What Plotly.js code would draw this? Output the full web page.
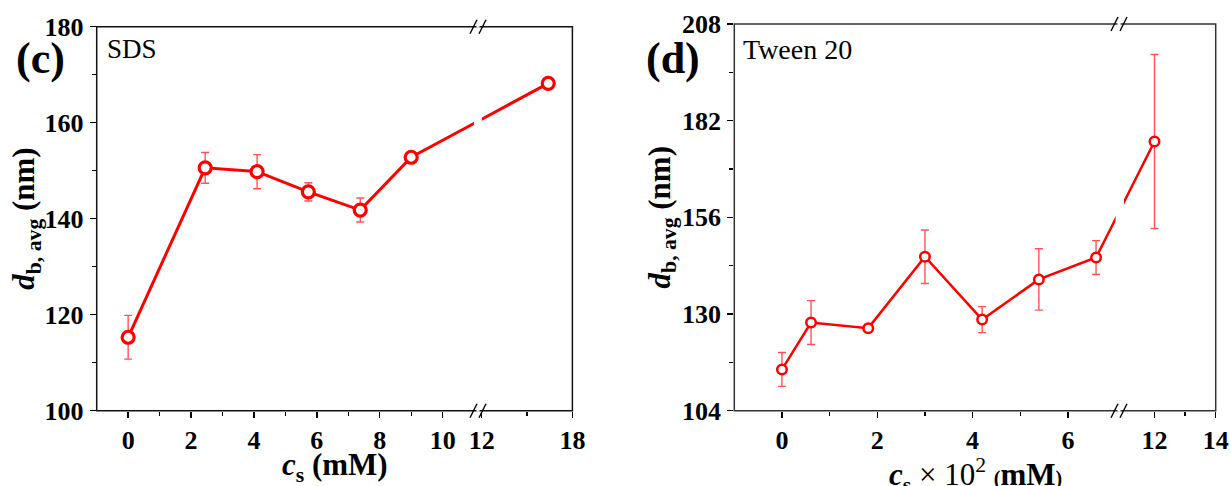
<!DOCTYPE html>
<html>
<head>
<meta charset="utf-8">
<script src="https://cdn.plot.ly/plotly-3.0.1.min.js"></script>
<style>html,body{margin:0;padding:0;background:#fff;}#chart{width:1231px;height:486px;}</style>
</head>
<body>
<div id="chart"></div>
<script>
// ---- data ----
const sdsX   = [0, 2.45, 4.1, 5.73, 7.38, 9.0, 16.4];
const sdsY   = [115.3, 150.6, 149.8, 145.6, 141.8, 152.8, 168.2];
const sdsErr = [4.55, 3.2, 3.55, 1.9, 2.5, 0.5, 0.5];

const twX   = [0, 0.61, 1.81, 3.0, 4.2, 5.39, 6.59, 12.0];
const twY   = [115.1, 127.7, 126.2, 145.4, 128.5, 139.3, 145.2, 176.4];
const twErr = [4.55, 5.9, 0.5, 7.2, 3.5, 8.25, 4.55, 23.4];

const sdsTicksA = [0, 2, 4, 6, 8, 10];
const sdsTicksB = [12, 18];
const sdsMinorA = [1, 3, 5, 7, 9];
const sdsMinorB = [15];
const sdsYTicks = [100, 120, 140, 160, 180];
const sdsYMinor = [110, 130, 150, 170];

const twTicksA = [0, 2, 4, 6];
const twTicksB = [12, 14];
const twMinorA = [1, 3, 5];
const twMinorB = [13];
const twYTicks = [104, 130, 156, 182, 208];
const twYMinor = [117, 143, 169, 195];

// ---- layout geometry ----
const W = 1231, H = 486;
const px = v => v / W;
const py = v => 1 - v / H;
const RED = '#ff0000';
const ERR = 'rgba(255,40,40,0.8)';
const FONT = 'Liberation Serif';

const panels = [
  {
    name: 'sds', X: sdsX, Y: sdsY, E: sdsErr,
    segs: [
      {ax: 'x',  dom: [96.7, 474.1],  rng: [-1, 11], ticks: sdsTicksA, minor: sdsMinorA},
      {ax: 'x2', dom: [481.8, 572.4], rng: [12, 18], ticks: sdsTicksB, minor: sdsMinorB}
    ],
    yax: 'y', ydom: [410.7, 26.7], yrng: [100, 180], yticks: sdsYTicks, yminor: sdsYMinor,
    msize: 12, mline: 3.2, lw: 3, brk: 478, frame: '#111'
  },
  {
    name: 'tw', X: twX, Y: twY, E: twErr,
    segs: [
      {ax: 'x3', dom: [734.3, 1115.6],  rng: [-1, 7],  ticks: twTicksA, minor: twMinorA},
      {ax: 'x4', dom: [1123.9, 1215.7], rng: [11, 14], ticks: twTicksB, minor: twMinorB}
    ],
    yax: 'y2', ydom: [410.7, 24], yrng: [104, 208], yticks: twYTicks, yminor: twYMinor,
    msize: 9.5, mline: 2.5, lw: 2.5, brk: 1119, frame: '#333'
  }
];

function toPix(seg, x) {
  return seg.dom[0] + (x - seg.rng[0]) / (seg.rng[1] - seg.rng[0]) * (seg.dom[1] - seg.dom[0]);
}
function fromPix(seg, p) {
  return seg.rng[0] + (p - seg.dom[0]) / (seg.dom[1] - seg.dom[0]) * (seg.rng[1] - seg.rng[0]);
}
function segIndex(P, x) { return x <= P.segs[0].rng[1] ? 0 : 1; }

const traces = [];
const layout = {
  width: W, height: H,
  margin: {l: 0, r: 0, t: 0, b: 0},
  paper_bgcolor: '#fff', plot_bgcolor: 'rgba(0,0,0,0)',
  showlegend: false,
  font: {family: FONT, color: '#000'},
  shapes: [], annotations: []
};

const tickFont = {family: FONT, size: 26, color: '#000', weight: 'bold'};

panels.forEach(P => {
  const yName = P.yax === 'y' ? 'yaxis' : 'yaxis2';
  layout[yName] = {
    domain: [py(P.ydom[0]), py(P.ydom[1])], range: P.yrng, anchor: P.segs[0].ax,
    showline: false, showgrid: false, zeroline: false,
    tickmode: 'array', tickvals: P.yticks, ticks: 'outside', ticklen: 6, tickwidth: 1.4, tickcolor: '#000',
    tickfont: tickFont, ticklabelstandoff: 1,
    minor: {tickmode: 'array', tickvals: P.yminor, ticks: 'outside', ticklen: 4, tickwidth: 1.4, tickcolor: '#000', showgrid: false}
  };
  P.segs.forEach((s, i) => {
    const xName = 'xaxis' + (s.ax === 'x' ? '' : s.ax.slice(1));
    layout[xName] = {
      domain: [px(s.dom[0]), px(s.dom[1])], range: s.rng, anchor: P.yax,
      showline: false, showgrid: false, zeroline: false,
      tickmode: 'array', tickvals: s.ticks, ticks: 'outside', ticklen: 6, tickwidth: 1.4, tickcolor: '#000',
      tickfont: tickFont, ticklabelstandoff: 0,
      minor: {tickmode: 'array', tickvals: s.minor, ticks: 'outside', ticklen: 4, tickwidth: 1.4, tickcolor: '#000', showgrid: false}
    };
    // connecting line: every point expressed in this segment's coordinates (clipped by the subplot)
    const lx = P.X.map(x => {
      const j = segIndex(P, x);
      return j === i ? x : fromPix(s, toPix(P.segs[j], x));
    });
    traces.push({
      type: 'scatter', mode: 'lines', x: lx, y: P.Y, xaxis: s.ax, yaxis: P.yax,
      line: {color: RED, width: P.lw}, hoverinfo: 'skip'
    });
    // markers with error bars for points in this segment
    const idx = P.X.map((x, k) => k).filter(k => segIndex(P, P.X[k]) === i);
    traces.push({
      type: 'scatter', mode: 'markers', cliponaxis: false,
      x: idx.map(k => P.X[k]), y: idx.map(k => P.Y[k]), xaxis: s.ax, yaxis: P.yax,
      error_y: {type: 'data', array: idx.map(k => P.E[k]), visible: true, color: ERR, thickness: 1.4, width: 4},
      marker: {symbol: 'circle', size: P.msize, color: '#fff', line: {color: RED, width: P.mline}}
    });
  });
  // frame
  const x0 = P.segs[0].dom[0], x1 = P.segs[1].dom[1];
  const yb = P.ydom[0], yt = P.ydom[1];
  layout.shapes.push({type: 'rect', xref: 'paper', yref: 'paper', x0: px(x0), x1: px(x1), y0: py(yb), y1: py(yt),
    line: {color: P.frame, width: 1.5}, fillcolor: 'rgba(0,0,0,0)', layer: 'above'});
  // break marks on top and bottom axis
  [yb, yt].forEach(yy => {
    layout.shapes.push({type: 'path', xref: 'paper', yref: 'paper',
      path: `M${px(P.brk - 1.5)},${py(yy - 1)} L${px(P.brk + 1.5)},${py(yy - 1)} L${px(P.brk + 1.5)},${py(yy + 1)} L${px(P.brk - 1.5)},${py(yy + 1)} Z`,
      fillcolor: '#fff', line: {width: 0}, layer: 'above'});
    [-4.5, 4.5].forEach(d => {
      layout.shapes.push({type: 'line', xref: 'paper', yref: 'paper',
        x0: px(P.brk + d - 3.5), y0: py(yy + 7), x1: px(P.brk + d + 3.5), y1: py(yy - 7),
        line: {color: '#000', width: 1.4}, layer: 'above'});
    });
  });
});

const ann = (o) => layout.annotations.push(Object.assign({xref: 'paper', yref: 'paper', showarrow: false}, o));
// panel labels
ann({x: px(40.5), y: py(59), text: '(c)', xanchor: 'center', yanchor: 'middle', font: {family: FONT, size: 44, weight: 'bold', color: '#000'}});
ann({x: px(672.5), y: py(59), text: '(d)', xanchor: 'center', yanchor: 'middle', font: {family: FONT, size: 44, weight: 'bold', color: '#000'}});
ann({x: px(105), y: py(49), text: 'SDS', xanchor: 'left', yanchor: 'middle', font: {family: FONT, size: 27, color: '#000'}});
ann({x: px(741), y: py(49), text: 'Tween 20', xanchor: 'left', yanchor: 'middle', font: {family: FONT, size: 28, color: '#000'}});
// y titles
const yTitle = '<i>d</i><sub>b, avg</sub> (nm)';
ann({x: px(26), y: py(218.7), text: yTitle, textangle: -90, xanchor: 'center', yanchor: 'middle', font: {family: FONT, size: 31, weight: 'bold', color: '#000'}});
ann({x: px(662), y: py(217.4), text: yTitle, textangle: -90, xanchor: 'center', yanchor: 'middle', font: {family: FONT, size: 31, weight: 'bold', color: '#000'}});
// x titles
ann({x: px(334.5), y: py(467), text: '<i>c</i><sub>s</sub> (mM)', xanchor: 'center', yanchor: 'middle', font: {family: FONT, size: 31, weight: 'bold', color: '#000'}});
ann({x: px(975), y: py(475), text: '<i>c</i><sub>s</sub><span style="font-weight:normal"> × 10<sup>2</sup> </span><span style="font-size:20px">(</span>mM<span style="font-size:20px">)</span>', xanchor: 'center', yanchor: 'middle', font: {family: FONT, size: 31, weight: 'bold', color: '#000'}});

Plotly.newPlot('chart', traces, layout, {staticPlot: true, displayModeBar: false});
</script>
</body>
</html>
